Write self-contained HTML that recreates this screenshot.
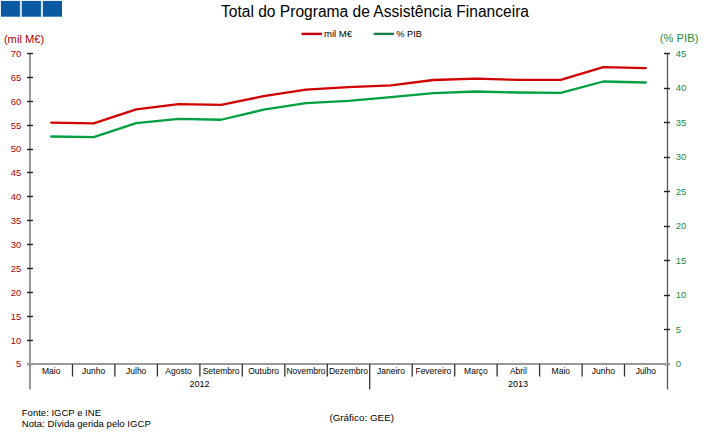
<!DOCTYPE html>
<html><head><meta charset="utf-8"><style>
html,body{margin:0;padding:0;background:#fff;width:707px;height:442px;overflow:hidden}
svg{display:block}
</style></head><body>
<svg width="707" height="442" viewBox="0 0 707 442">
<rect x="19" y="1" width="25" height="15.7" fill="#cfe6f4"/>
<rect x="0.9" y="0.9" width="19" height="15.8" fill="#0a5aa3"/>
<rect x="21.9" y="0.9" width="19" height="15.8" fill="#0a5aa3"/>
<rect x="43" y="0.9" width="19" height="15.8" fill="#0a5aa3"/>
<text x="221" y="17" font-size="16" fill="#000" textLength="308" lengthAdjust="spacingAndGlyphs" font-family="Liberation Sans, sans-serif">Total do Programa de Assistência Financeira</text>
<line x1="301.5" y1="33.9" x2="322" y2="33.9" stroke="#c8000a" stroke-width="2.4"/>
<text x="324" y="37" font-size="9" fill="#000" textLength="28" lengthAdjust="spacingAndGlyphs" font-family="Liberation Sans, sans-serif">mil M€</text>
<line x1="373.7" y1="33.9" x2="394" y2="33.9" stroke="#1a8050" stroke-width="2.4"/>
<text x="396.3" y="37" font-size="9" fill="#000" textLength="25.7" lengthAdjust="spacingAndGlyphs" font-family="Liberation Sans, sans-serif">% PIB</text>
<text x="3.9" y="42.9" font-size="11" fill="#b00000" textLength="40.3" lengthAdjust="spacingAndGlyphs" font-family="Liberation Sans, sans-serif">(mil M€)</text>
<text x="659.7" y="41.5" font-size="11" fill="#1a8c46" textLength="38.7" lengthAdjust="spacingAndGlyphs" font-family="Liberation Sans, sans-serif">(% PIB)</text>
<line x1="30" y1="53.5" x2="30" y2="389.5" stroke="#999" stroke-width="2"/>
<line x1="27" y1="53.5" x2="33" y2="53.5" stroke="#222" stroke-width="1.4"/>
<text x="21.3" y="56.9" font-size="9.5" fill="#b00000" text-anchor="end" font-family="Liberation Sans, sans-serif">70</text>
<line x1="27" y1="77.5" x2="33" y2="77.5" stroke="#222" stroke-width="1.4"/>
<text x="21.3" y="80.8" font-size="9.5" fill="#b00000" text-anchor="end" font-family="Liberation Sans, sans-serif">65</text>
<line x1="27" y1="101.5" x2="33" y2="101.5" stroke="#222" stroke-width="1.4"/>
<text x="21.3" y="104.7" font-size="9.5" fill="#b00000" text-anchor="end" font-family="Liberation Sans, sans-serif">60</text>
<line x1="27" y1="125.5" x2="33" y2="125.5" stroke="#222" stroke-width="1.4"/>
<text x="21.3" y="128.6" font-size="9.5" fill="#b00000" text-anchor="end" font-family="Liberation Sans, sans-serif">55</text>
<line x1="27" y1="149.5" x2="33" y2="149.5" stroke="#222" stroke-width="1.4"/>
<text x="21.3" y="152.4" font-size="9.5" fill="#b00000" text-anchor="end" font-family="Liberation Sans, sans-serif">50</text>
<line x1="27" y1="172.5" x2="33" y2="172.5" stroke="#222" stroke-width="1.4"/>
<text x="21.3" y="176.3" font-size="9.5" fill="#b00000" text-anchor="end" font-family="Liberation Sans, sans-serif">45</text>
<line x1="27" y1="196.5" x2="33" y2="196.5" stroke="#222" stroke-width="1.4"/>
<text x="21.3" y="200.2" font-size="9.5" fill="#b00000" text-anchor="end" font-family="Liberation Sans, sans-serif">40</text>
<line x1="27" y1="220.5" x2="33" y2="220.5" stroke="#222" stroke-width="1.4"/>
<text x="21.3" y="224.1" font-size="9.5" fill="#b00000" text-anchor="end" font-family="Liberation Sans, sans-serif">35</text>
<line x1="27" y1="244.5" x2="33" y2="244.5" stroke="#222" stroke-width="1.4"/>
<text x="21.3" y="248.0" font-size="9.5" fill="#b00000" text-anchor="end" font-family="Liberation Sans, sans-serif">30</text>
<line x1="27" y1="268.5" x2="33" y2="268.5" stroke="#222" stroke-width="1.4"/>
<text x="21.3" y="271.9" font-size="9.5" fill="#b00000" text-anchor="end" font-family="Liberation Sans, sans-serif">25</text>
<line x1="27" y1="292.5" x2="33" y2="292.5" stroke="#222" stroke-width="1.4"/>
<text x="21.3" y="295.7" font-size="9.5" fill="#b00000" text-anchor="end" font-family="Liberation Sans, sans-serif">20</text>
<line x1="27" y1="316.5" x2="33" y2="316.5" stroke="#222" stroke-width="1.4"/>
<text x="21.3" y="319.6" font-size="9.5" fill="#b00000" text-anchor="end" font-family="Liberation Sans, sans-serif">15</text>
<line x1="27" y1="340.5" x2="33" y2="340.5" stroke="#222" stroke-width="1.4"/>
<text x="21.3" y="343.5" font-size="9.5" fill="#b00000" text-anchor="end" font-family="Liberation Sans, sans-serif">10</text>
<line x1="27" y1="364.5" x2="33" y2="364.5" stroke="#222" stroke-width="1.4"/>
<text x="21.3" y="367.4" font-size="9.5" fill="#b00000" text-anchor="end" font-family="Liberation Sans, sans-serif">5</text>
<line x1="667.5" y1="53.5" x2="667.5" y2="389.5" stroke="#555" stroke-width="1.3"/>
<line x1="664" y1="53.5" x2="670" y2="53.5" stroke="#222" stroke-width="1.4"/>
<text x="675.8" y="56.8" font-size="9.5" fill="#1a8c46" font-family="Liberation Sans, sans-serif">45</text>
<line x1="664" y1="88.5" x2="670" y2="88.5" stroke="#222" stroke-width="1.4"/>
<text x="675.8" y="91.3" font-size="9.5" fill="#1a8c46" font-family="Liberation Sans, sans-serif">40</text>
<line x1="664" y1="122.5" x2="670" y2="122.5" stroke="#222" stroke-width="1.4"/>
<text x="675.8" y="125.8" font-size="9.5" fill="#1a8c46" font-family="Liberation Sans, sans-serif">35</text>
<line x1="664" y1="157.5" x2="670" y2="157.5" stroke="#222" stroke-width="1.4"/>
<text x="675.8" y="160.3" font-size="9.5" fill="#1a8c46" font-family="Liberation Sans, sans-serif">30</text>
<line x1="664" y1="191.5" x2="670" y2="191.5" stroke="#222" stroke-width="1.4"/>
<text x="675.8" y="194.8" font-size="9.5" fill="#1a8c46" font-family="Liberation Sans, sans-serif">25</text>
<line x1="664" y1="226.5" x2="670" y2="226.5" stroke="#222" stroke-width="1.4"/>
<text x="675.8" y="229.3" font-size="9.5" fill="#1a8c46" font-family="Liberation Sans, sans-serif">20</text>
<line x1="664" y1="260.5" x2="670" y2="260.5" stroke="#222" stroke-width="1.4"/>
<text x="675.8" y="263.8" font-size="9.5" fill="#1a8c46" font-family="Liberation Sans, sans-serif">15</text>
<line x1="664" y1="295.5" x2="670" y2="295.5" stroke="#222" stroke-width="1.4"/>
<text x="675.8" y="298.3" font-size="9.5" fill="#1a8c46" font-family="Liberation Sans, sans-serif">10</text>
<line x1="664" y1="329.5" x2="670" y2="329.5" stroke="#222" stroke-width="1.4"/>
<text x="675.8" y="332.8" font-size="9.5" fill="#1a8c46" font-family="Liberation Sans, sans-serif">5</text>
<line x1="664" y1="364.5" x2="670" y2="364.5" stroke="#222" stroke-width="1.4"/>
<text x="675.8" y="367.3" font-size="9.5" fill="#1a8c46" font-family="Liberation Sans, sans-serif">0</text>
<line x1="27" y1="364" x2="670" y2="364" stroke="#999" stroke-width="2"/>
<line x1="72.5" y1="364" x2="72.5" y2="376.5" stroke="#333" stroke-width="1.3"/>
<line x1="114.9" y1="364" x2="114.9" y2="376.5" stroke="#333" stroke-width="1.3"/>
<line x1="157.4" y1="364" x2="157.4" y2="376.5" stroke="#333" stroke-width="1.3"/>
<line x1="199.9" y1="364" x2="199.9" y2="376.5" stroke="#333" stroke-width="1.3"/>
<line x1="242.3" y1="364" x2="242.3" y2="376.5" stroke="#333" stroke-width="1.3"/>
<line x1="284.8" y1="364" x2="284.8" y2="376.5" stroke="#333" stroke-width="1.3"/>
<line x1="327.3" y1="364" x2="327.3" y2="376.5" stroke="#333" stroke-width="1.3"/>
<line x1="369.7" y1="364" x2="369.7" y2="389.5" stroke="#333" stroke-width="1.3"/>
<line x1="412.2" y1="364" x2="412.2" y2="376.5" stroke="#333" stroke-width="1.3"/>
<line x1="454.7" y1="364" x2="454.7" y2="376.5" stroke="#333" stroke-width="1.3"/>
<line x1="497.1" y1="364" x2="497.1" y2="376.5" stroke="#333" stroke-width="1.3"/>
<line x1="539.6" y1="364" x2="539.6" y2="376.5" stroke="#333" stroke-width="1.3"/>
<line x1="582.1" y1="364" x2="582.1" y2="376.5" stroke="#333" stroke-width="1.3"/>
<line x1="624.5" y1="364" x2="624.5" y2="376.5" stroke="#333" stroke-width="1.3"/>
<text x="51.2" y="373.8" font-size="8.5" fill="#000" text-anchor="middle" font-family="Liberation Sans, sans-serif">Maio</text>
<text x="93.7" y="373.8" font-size="8.5" fill="#000" text-anchor="middle" font-family="Liberation Sans, sans-serif">Junho</text>
<text x="136.2" y="373.8" font-size="8.5" fill="#000" text-anchor="middle" font-family="Liberation Sans, sans-serif">Julho</text>
<text x="178.6" y="373.8" font-size="8.5" fill="#000" text-anchor="middle" font-family="Liberation Sans, sans-serif">Agosto</text>
<text x="221.1" y="373.8" font-size="8.5" fill="#000" text-anchor="middle" font-family="Liberation Sans, sans-serif">Setembro</text>
<text x="263.6" y="373.8" font-size="8.5" fill="#000" text-anchor="middle" font-family="Liberation Sans, sans-serif">Outubro</text>
<text x="306.0" y="373.8" font-size="8.5" fill="#000" text-anchor="middle" font-family="Liberation Sans, sans-serif">Novembro</text>
<text x="348.5" y="373.8" font-size="8.5" fill="#000" text-anchor="middle" font-family="Liberation Sans, sans-serif">Dezembro</text>
<text x="391.0" y="373.8" font-size="8.5" fill="#000" text-anchor="middle" font-family="Liberation Sans, sans-serif">Janeiro</text>
<text x="433.4" y="373.8" font-size="8.5" fill="#000" text-anchor="middle" font-family="Liberation Sans, sans-serif">Fevereiro</text>
<text x="475.9" y="373.8" font-size="8.5" fill="#000" text-anchor="middle" font-family="Liberation Sans, sans-serif">Março</text>
<text x="518.4" y="373.8" font-size="8.5" fill="#000" text-anchor="middle" font-family="Liberation Sans, sans-serif">Abril</text>
<text x="560.8" y="373.8" font-size="8.5" fill="#000" text-anchor="middle" font-family="Liberation Sans, sans-serif">Maio</text>
<text x="603.3" y="373.8" font-size="8.5" fill="#000" text-anchor="middle" font-family="Liberation Sans, sans-serif">Junho</text>
<text x="645.8" y="373.8" font-size="8.5" fill="#000" text-anchor="middle" font-family="Liberation Sans, sans-serif">Julho</text>
<text x="199.5" y="386.9" font-size="9" fill="#000" text-anchor="middle" font-family="Liberation Sans, sans-serif">2012</text>
<text x="518" y="387.3" font-size="9" fill="#000" text-anchor="middle" font-family="Liberation Sans, sans-serif">2013</text>
<polyline points="51.2,122.6 93.7,123.4 136.2,109.4 178.6,104.1 221.1,104.9 263.6,96.2 306.0,89.6 348.5,87.1 391.0,85.3 433.4,80.0 475.9,78.7 518.4,79.9 560.8,79.9 603.3,67.2 645.8,68.2" fill="none" stroke="#d00000" stroke-width="2.3" stroke-linejoin="round" stroke-linecap="round"/>
<polyline points="51.2,136.5 93.7,137.2 136.2,123.2 178.6,118.8 221.1,119.75 263.6,109.7 306.0,103.2 348.5,100.9 391.0,97.2 433.4,93.2 475.9,91.5 518.4,92.5 560.8,92.8 603.3,81.5 645.8,82.5" fill="none" stroke="#00a040" stroke-width="2.3" stroke-linejoin="round" stroke-linecap="round"/>
<text x="21.8" y="416.3" font-size="9" fill="#000" textLength="79.2" lengthAdjust="spacingAndGlyphs" font-family="Liberation Sans, sans-serif">Fonte: IGCP e INE</text>
<text x="21.8" y="427" font-size="9" fill="#000" textLength="129" lengthAdjust="spacingAndGlyphs" font-family="Liberation Sans, sans-serif">Nota: Dívida gerida pelo IGCP</text>
<text x="329.4" y="420.8" font-size="8.5" fill="#000" textLength="64.6" lengthAdjust="spacingAndGlyphs" font-family="Liberation Sans, sans-serif">(Gráfico: GEE)</text>
</svg>
</body></html>
